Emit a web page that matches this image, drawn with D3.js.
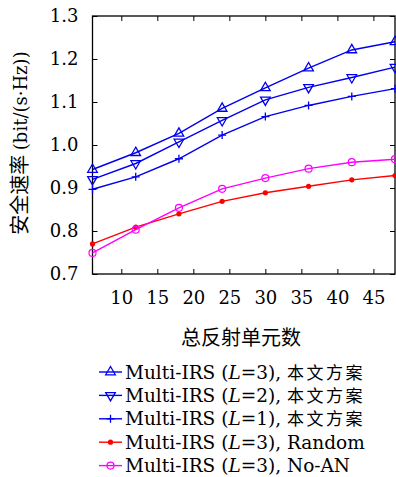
<!DOCTYPE html>
<html><head><meta charset="utf-8">
<script src="https://cdn.jsdelivr.net/npm/d3@7"></script>
<style>body{margin:0;background:#fff}svg{display:block}
.serif{font-family:"DejaVu Serif","Liberation Serif",serif}
.cjk{font-family:"Noto Sans CJK SC","Noto Sans CJK JP",sans-serif}
</style>
</head><body>
<svg id="c" width="396" height="477"></svg>
<script>
const xValues = [6, 12, 18, 24, 30, 36, 42, 48];
const seriesL3 = [0.943, 0.982, 1.027, 1.085, 1.133, 1.179, 1.221, 1.240];
const seriesL2 = [0.920, 0.957, 1.007, 1.057, 1.105, 1.134, 1.157, 1.181];
const seriesL1 = [0.897, 0.926, 0.968, 1.023, 1.066, 1.092, 1.113, 1.131];
const seriesRandom = [0.770, 0.809, 0.840, 0.869, 0.889, 0.904, 0.919, 0.929];
const seriesNoAN = [0.749, 0.803, 0.854, 0.898, 0.923, 0.945, 0.960, 0.967];
const xTicks = [10, 15, 20, 25, 30, 35, 40, 45];
const yTicks = [0.7, 0.8, 0.9, 1.0, 1.1, 1.2, 1.3];
const seriesNames = ["Multi-IRS (L=3), 本文方案","Multi-IRS (L=2), 本文方案","Multi-IRS (L=1), 本文方案","Multi-IRS (L=3), Random","Multi-IRS (L=3), No-AN"];

const series = [
  {vals: seriesL3, color: "#0000ee", marker: "tri-up", L: "3", tail: "本文方案"},
  {vals: seriesL2, color: "#0000ee", marker: "tri-down", L: "2", tail: "本文方案"},
  {vals: seriesL1, color: "#0000ee", marker: "plus", L: "1", tail: "本文方案"},
  {vals: seriesRandom, color: "#ff0000", marker: "dot", L: "3", tail: "Random"},
  {vals: seriesNoAN, color: "#ff00ff", marker: "circle", L: "3", tail: "No-AN"}
];

const svg = d3.select("#c");
const pL = 92.5, pR = 395, pT = 16, pB = 274;
const x = d3.scaleLinear().domain([6, 48]).range([pL, pR]);
const y = d3.scaleLinear().domain([0.7, 1.3]).range([pB, pT]);

// axes with inward ticks
const tl = 5;
svg.append("g").attr("transform", `translate(0,${pB})`)
  .call(d3.axisBottom(x).tickValues(xTicks).tickSizeInner(-tl).tickSizeOuter(0).tickPadding(17).tickFormat(d3.format("d")))
  .call(g => { g.attr("font-family", null).attr("font-size", null); g.select(".domain").remove(); g.selectAll("text").attr("class","serif").style("font-size","18px").attr("fill","#000"); });
svg.append("g").attr("transform", `translate(0,${pT})`)
  .call(d3.axisTop(x).tickValues(xTicks).tickSizeInner(-tl).tickSizeOuter(0).tickFormat(""))
  .call(g => g.select(".domain").remove());
svg.append("g").attr("transform", `translate(${pL},0)`)
  .call(d3.axisLeft(y).tickValues(yTicks).tickSizeInner(-tl).tickSizeOuter(0).tickPadding(14).tickFormat(d3.format(".1f")))
  .call(g => { g.attr("font-family", null).attr("font-size", null); g.select(".domain").remove(); g.selectAll("text").attr("class","serif").style("font-size","18px").attr("fill","#000"); });
svg.append("g").attr("transform", `translate(${pR},0)`)
  .call(d3.axisRight(y).tickValues(yTicks).tickSizeInner(-tl).tickSizeOuter(0).tickFormat(""))
  .call(g => g.select(".domain").remove());
svg.selectAll(".tick line").attr("stroke", "#000").attr("stroke-width", 1);

svg.append("rect").attr("x", pL).attr("y", pT).attr("width", pR - pL).attr("height", pB - pT)
  .attr("fill", "none").attr("stroke", "#000").attr("stroke-width", 1.3);

function drawMarker(g, type, color, cx, cy) {
  if (type === "tri-up") {
    g.append("path").attr("d", d3.symbol(d3.symbolTriangle, 40)()).attr("transform", `translate(${cx},${cy})`)
      .attr("fill", "none").attr("stroke", color).attr("stroke-width", 1.3);
  } else if (type === "tri-down") {
    g.append("path").attr("d", d3.symbol(d3.symbolTriangle, 40)()).attr("transform", `translate(${cx},${cy}) rotate(180)`)
      .attr("fill", "none").attr("stroke", color).attr("stroke-width", 1.3);
  } else if (type === "plus") {
    g.append("path").attr("d", `M${cx-4},${cy}H${cx+4}M${cx},${cy-4}V${cy+4}`).attr("stroke", color).attr("stroke-width", 1.3);
  } else if (type === "dot") {
    g.append("circle").attr("cx", cx).attr("cy", cy).attr("r", 2.6).attr("fill", color);
  } else if (type === "circle") {
    g.append("circle").attr("cx", cx).attr("cy", cy).attr("r", 3.5).attr("fill", "none").attr("stroke", color).attr("stroke-width", 1.2);
  }
}

const line = d3.line().x((d, i) => x(xValues[i])).y(d => y(d));
const plot = svg.append("g");
series.forEach(s => {
  plot.append("path").datum(s.vals).attr("d", line).attr("fill", "none").attr("stroke", s.color).attr("stroke-width", 1.4);
  s.vals.forEach((v, i) => drawMarker(plot, s.marker, s.color, x(xValues[i]), y(v)));
});

// axis labels
svg.append("text").attr("x", 241).attr("y", 345).attr("text-anchor", "middle").attr("class", "cjk")
  .style("font-size", "20px").attr("fill", "#000").text("总反射单元数");
const yl = svg.append("text").attr("transform", "translate(27,143) rotate(-90)").attr("text-anchor", "middle").attr("fill", "#000");
yl.append("tspan").attr("class", "cjk").style("font-size", "20px").text("安全速率 ");
yl.append("tspan").attr("class", "serif").style("font-size", "18px").text("(bit/(s·Hz))");

// legend
const legY0 = 372, legDy = 23.4;
series.forEach((s, i) => {
  const ly = legY0 + i * legDy;
  const g = svg.append("g");
  g.append("line").attr("x1", 99).attr("x2", 122).attr("y1", ly).attr("y2", ly).attr("stroke", s.color).attr("stroke-width", 1.4);
  drawMarker(g, s.marker, s.color, 110.5, ly);
  const t = g.append("text").attr("x", 125).attr("y", ly + 6.5).attr("class", "serif").style("font-size", "18.5px").attr("fill", "#000");
  t.append("tspan").text("Multi-IRS (");
  t.append("tspan").style("font-style", "italic").text("L");
  t.append("tspan").text("=" + s.L + "), ");
  if (s.tail === "本文方案") t.append("tspan").attr("class", "cjk").style("font-size", "17px").style("letter-spacing", "2.5px").text(s.tail);
  else t.append("tspan").text(s.tail);
});
</script>
</body></html>
